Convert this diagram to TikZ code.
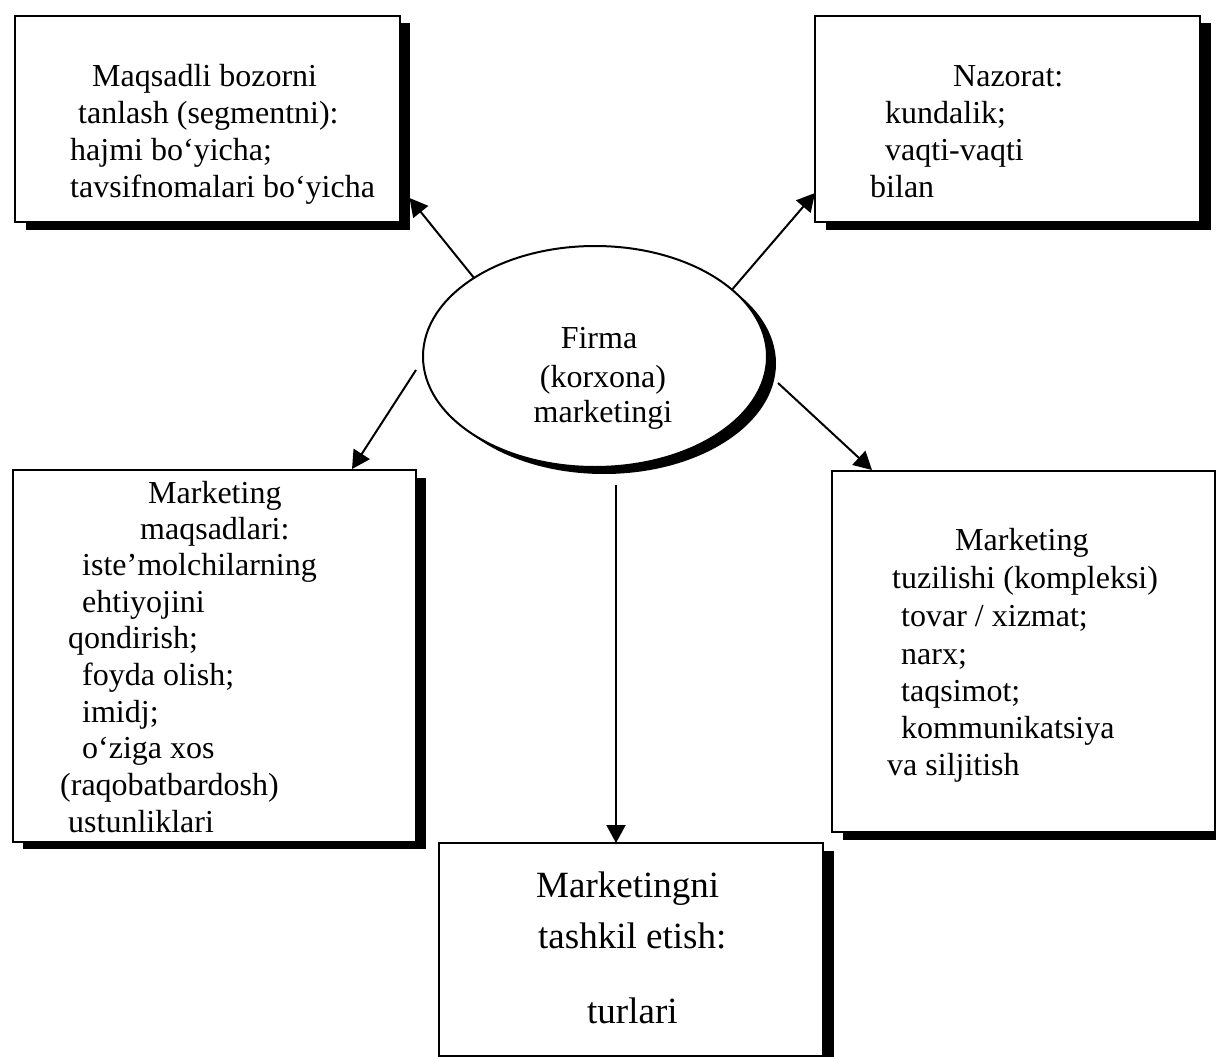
\documentclass[tikz,border=0pt]{standalone}
\usepackage{fontspec}
\setmainfont{Liberation Serif}
\usetikzlibrary{arrows.meta,shadows,calc,shapes.geometric}

% one line of text, placed by its baseline
\newcommand{\tline}[4][txt]{\node[#1] (#2) at (#3) {#4};}

\begin{document}
\begin{tikzpicture}[x=1pt,y=-1pt,
  box/.style={draw, line width=2pt, fill=white, outer sep=0pt, inner sep=0pt,
    drop shadow={shadow xshift=10.5pt, shadow yshift=-7.5pt, fill=black, opacity=1}},
  hub/.style={ellipse, draw, line width=2pt, fill=white, outer sep=0pt, inner sep=0pt,
    minimum width=344pt, minimum height=221pt,
    drop shadow={shadow xshift=9pt, shadow yshift=-7pt, fill=black, opacity=1}},
  txt/.style={inner sep=0pt, anchor=base west, font=\fontsize{32}{37}\selectfont},
  bigtxt/.style={txt, font=\fontsize{37}{44}\selectfont},
  ctxt/.style={txt, anchor=base},
  link/.style={line width=2pt, -{Triangle[length=18pt,width=19pt]}},
]
\useasboundingbox (0,0) rectangle (1216,1057);
\clip (0,0) rectangle (1216,1057);
\fill[white] (0,0) rectangle (1216,1057);

% boxes
\node[box, minimum width=384.5pt, minimum height=206pt] (tl) at (207.25,119) {};
\node[box, minimum width=385pt,   minimum height=206pt] (tr) at (1007.5,119) {};
\node[box, minimum width=403pt,   minimum height=371.5pt] (ml) at (214,655.75) {};
\node[box, minimum width=383pt,   minimum height=361pt] (mr) at (1023.5,651.5) {};
\node[box, minimum width=384pt,   minimum height=213pt] (bt) at (631,949.5) {};

% central ellipse
\node[hub] (el) at (595,356.5) {};

% texts: top left
\tline{tl1}{92,87}{Maqsadli bozorni}
\tline{tl2}{78,124}{tanlash (segmentni):}
\tline{tl3}{70,160}{hajmi bo‘yicha;}
\tline{tl4}{70,197}{tavsifnomalari bo‘yicha}

% top right
\tline{tr1}{953,87}{Nazorat:}
\tline{tr2}{885,124}{kundalik;}
\tline{tr3}{885,160}{vaqti-vaqti}
\tline{tr4}{870,197}{bilan}

% centre
\tline[ctxt]{el1}{599,348}{Firma}
\tline[ctxt]{el2}{603,387}{(korxona)}
\tline[ctxt]{el3}{603,422}{marketingi}

% middle left
\tline{ml1}{148,503}{Marketing}
\tline{ml2}{140,539}{maqsadlari:}
\tline{ml3}{82,575}{iste’molchilarning}
\tline{ml4}{82,612}{ehtiyojini}
\tline{ml5}{68,648}{qondirish;}
\tline{ml6}{82,685}{foyda olish;}
\tline{ml7}{82,722}{imidj;}
\tline{ml8}{82,758}{o‘ziga xos}
\tline{ml9}{60,795}{(raqobatbardosh)}
\tline{ml10}{68,832}{ustunliklari}

% middle right
\tline{mr1}{955,550}{Marketing}
\tline{mr2}{892,588}{tuzilishi (kompleksi)}
\tline{mr3}{901,626}{tovar / xizmat;}
\tline{mr4}{901,664}{narx;}
\tline{mr5}{901,701}{taqsimot;}
\tline{mr6}{901,738}{kommunikatsiya}
\tline{mr7}{887,775}{va siljitish}

% bottom
\tline[bigtxt]{bt1}{536,897}{Marketingni}
\tline[bigtxt]{bt2}{538,948}{tashkil etish:}
\tline[bigtxt]{bt3}{587,1023}{turlari}

% connectors
\draw[link] (el.147.9) -- ($(tl.south east)+(10,-24)$);
\draw[link] (el.26.6) -- ($(tr.south west)+(0,-29)$);
\draw[link] ($(el.center)+(-179,13.5)$) -- ($(ml.north west)+(339.5,-1)$);
\draw[link] ($(el.center)+(183,26.5)$) -- ($(mr.north west)+(40,-1)$);
\draw[link] ($(el.center)+(21,128.5)$) -- ($(bt.north west)+(177,0)$);
\end{tikzpicture}
\end{document}
